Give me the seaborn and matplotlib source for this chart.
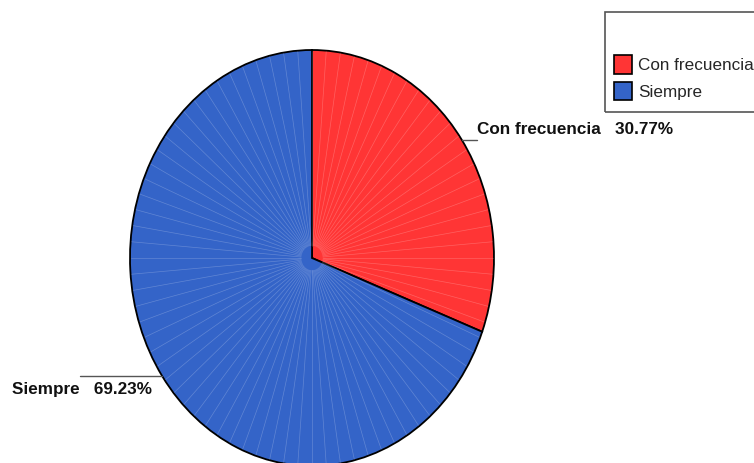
import numpy as np
import matplotlib
matplotlib.use("Agg")
from matplotlib import pyplot as plt
from matplotlib.patches import Rectangle, Patch
import seaborn as sns

# datos del grafico
categorias = ["Con frecuencia", "Siempre"]
porcentajes = [30.77, 69.23]
colores = ["#FF3535", "#3464C8"]

sns.set_theme(style="white")
plt.rcParams['font.family'] = ['Liberation Sans', 'DejaVu Sans']

W, H = 754, 463
fig = plt.figure(figsize=(W / 100, H / 100), dpi=100)

# pie centrado en (312, 258) px, radios 182 x 208 px (eliptico)
cx, cy, rx, ry = 312, 258, 182, 208
ax = fig.add_axes([(cx - rx) / W, (H - cy - ry) / H, 2 * rx / W, 2 * ry / H])

wedges, _ = ax.pie(porcentajes, colors=colores, startangle=90, counterclock=False,
                   wedgeprops=dict(edgecolor="black", linewidth=1.3))
ax.set_aspect('auto')
ax.set_xlim(-1, 1)
ax.set_ylim(-1, 1)
ax.axis('off')
for w in wedges:
    w.set_clip_on(False)
    w.set_zorder(1)

# lineas radiales tenues (efecto del render original)
for t in np.deg2rad(np.arange(0, 360, 4.5)):
    ax.plot([np.cos(t) * 0.06, np.cos(t) * 0.995], [np.sin(t) * 0.06, np.sin(t) * 0.995],
            color="white", lw=0.5, alpha=0.22, zorder=1.5, clip_on=False)

# etiquetas con lineas guia
for i, w in enumerate(wedges):
    ang = np.deg2rad((w.theta1 + w.theta2) / 2)
    mx, my = np.cos(ang), np.sin(ang)
    texto = f"{categorias[i]}   {porcentajes[i]:.2f}%"
    if mx > 0:
        x_fin = mx + 0.082
        ax.plot([mx, x_fin], [my, my], color="#555555", lw=1, clip_on=False)
        ax.text(x_fin, my + 0.05, texto, ha="left", va="center",
                fontsize=12.3, fontweight="bold", color="#111111")
    else:
        x_fin = mx - 0.45
        ax.plot([mx, x_fin], [my, my], color="#555555", lw=1, clip_on=False)
        ax.text(mx - 0.056, my - 0.062, texto, ha="right", va="center",
                fontsize=12.3, fontweight="bold", color="#111111")

# leyenda con marco
fig.patches.append(Rectangle((605 / W, 1 - 112 / H), 170 / W, 100 / H,
                             transform=fig.transFigure, fill=False,
                             edgecolor="#555555", linewidth=1.2))
handles = [Patch(facecolor=c, edgecolor="black", linewidth=1.2) for c in colores]
fig.legend(handles, categorias, loc="upper left",
           bbox_to_anchor=(611 / W, 1 - 52 / H), frameon=False,
           fontsize=12.3, handlelength=1.05, handleheight=1.3,
           handletextpad=0.35, labelspacing=0.45, borderaxespad=0, borderpad=0.2)

fig.savefig("out.png", dpi=100)
